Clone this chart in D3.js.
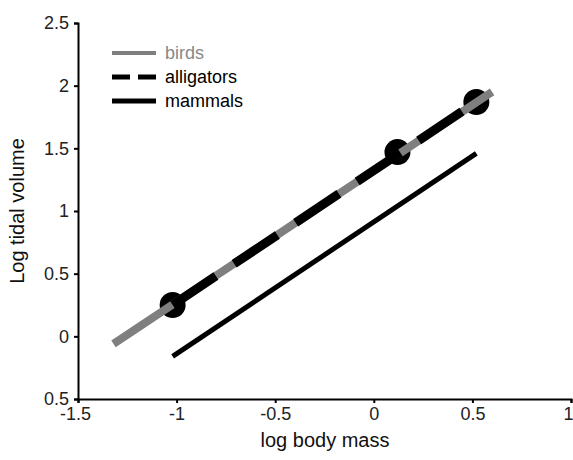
<!DOCTYPE html>
<html><head><meta charset="utf-8">
<script src="https://cdn.jsdelivr.net/npm/d3@7"></script>
<style>body{margin:0;background:#fff}svg{display:block}text{font-family:"Liberation Sans",Arial,sans-serif}</style>
</head><body><svg id="c" width="573" height="460"></svg>
<script>
const xTicks = [-1.5, -1, -0.5, 0, 0.5, 1];
const xTickLabels = ["-1.5", "-1", "-0.5", "0", "0.5", "1"];
const yTicks = [-0.5, 0, 0.5, 1, 1.5, 2, 2.5];
const yTickLabels = ["0.5", "0", "0.5", "1", "1.5", "2", "2.5"];
const seriesNames = ["birds", "alligators", "mammals"];
const birdsLine = [[-1.32, -0.06], [0.60, 1.95]];
const alligatorsLine = [[-1.02, 0.25], [0.50, 1.85]];
const mammalsLine = [[-1.02, -0.16], [0.52, 1.46]];
const alligatorPoints = [[-1.02, 0.25], [0.12, 1.47], [0.52, 1.87]];

const svg = d3.select("#c");
const x = d3.scaleLinear().domain([-1.5, 1]).range([78, 571]);
const y = d3.scaleLinear().domain([-0.5, 2.5]).range([399, 23]);

const xAxis = svg.append("g").attr("transform", "translate(0,399)")
  .call(d3.axisBottom(x).tickValues(xTicks).tickFormat((d, i) => xTickLabels[i]).tickSizeOuter(0).tickSize(4).tickPadding(4));
const yAxis = svg.append("g").attr("transform", "translate(78,0)")
  .call(d3.axisLeft(y).tickValues(yTicks).tickFormat((d, i) => yTickLabels[i]).tickSizeOuter(0).tickSize(4).tickPadding(5));
[xAxis, yAxis].forEach(a => {
  a.select(".domain").attr("stroke", "#000").attr("stroke-width", 2);
  a.selectAll(".tick line").attr("stroke", "#000").attr("stroke-width", 2);
  a.selectAll(".tick text").attr("font-size", 18).attr("fill", "#222");
});
xAxis.selectAll(".tick text").filter(d => d === -1.5).attr("dx", -3);
xAxis.selectAll(".tick text").filter(d => d === 1).attr("dx", -3);

svg.append("text").attr("x", 325).attr("y", 447).attr("text-anchor", "middle")
  .attr("font-size", 20).attr("fill", "#111").text("log body mass");
svg.append("text").attr("transform", "translate(24,211) rotate(-90)").attr("text-anchor", "middle")
  .attr("font-size", 20).attr("fill", "#111").text("Log tidal volume");

const line = d3.line().x(d => x(d[0])).y(d => y(d[1]));

svg.append("g").selectAll("circle").data(alligatorPoints).join("circle")
  .attr("cx", d => x(d[0])).attr("cy", d => y(d[1])).attr("r", 13).attr("fill", "#000");

svg.append("path").datum(birdsLine).attr("d", line).attr("fill", "none")
  .attr("stroke", "#7f7f7f").attr("stroke-width", 8);
svg.append("path").datum(alligatorsLine).attr("d", line).attr("fill", "none")
  .attr("stroke", "#000").attr("stroke-width", 9).attr("stroke-dasharray", "52,22");
svg.append("path").datum(mammalsLine).attr("d", line).attr("fill", "none")
  .attr("stroke", "#000").attr("stroke-width", 5);

const leg = [
  {name: seriesNames[0], color: "#7f7f7f", w: 4, dash: null, tc: "#888"},
  {name: seriesNames[1], color: "#000", w: 5, dash: "18,8", tc: "#000"},
  {name: seriesNames[2], color: "#000", w: 5, dash: null, tc: "#000"}
];
const lg = svg.append("g");
leg.forEach((l, i) => {
  const yy = 53 + i * 24;
  lg.append("line").attr("x1", 112).attr("x2", 156).attr("y1", yy).attr("y2", yy)
    .attr("stroke", l.color).attr("stroke-width", l.w).attr("stroke-dasharray", l.dash);
  lg.append("text").attr("x", 165).attr("y", yy).attr("dy", "0.35em").attr("font-size", 18)
    .attr("fill", l.tc).text(l.name);
});
</script></body></html>
